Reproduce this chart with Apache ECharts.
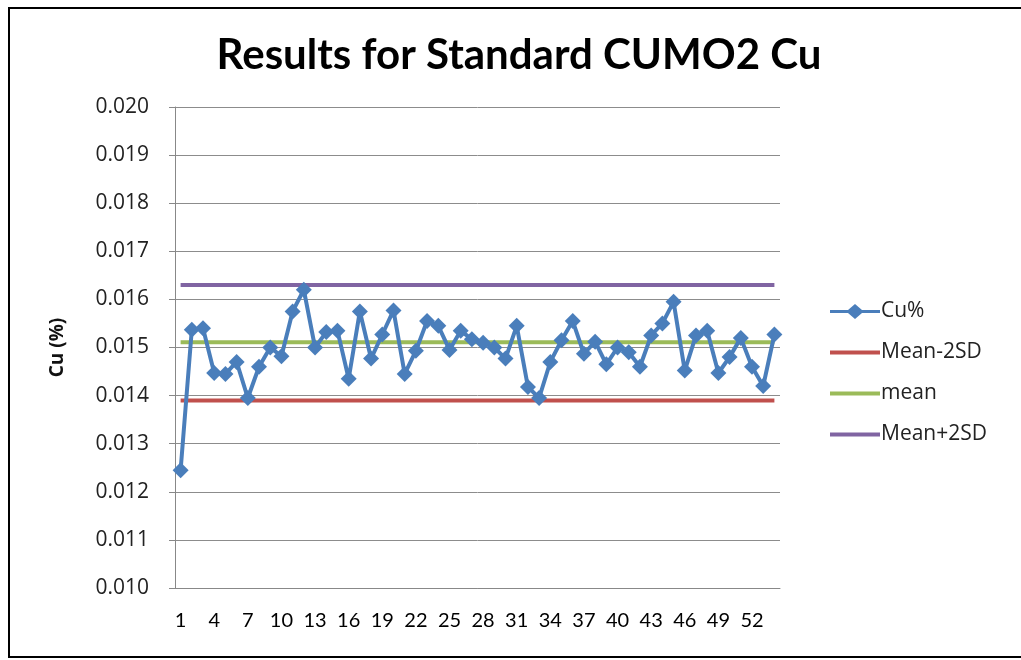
<!DOCTYPE html>
<html>
<head>
<meta charset="utf-8">
<title>Results for Standard CUMO2 Cu</title>
<style>
  html, body { margin: 0; padding: 0; background: #fff; }
  #chart { width: 1021px; height: 660px; }
</style>
</head>
<body>
<div id="chart"></div>
<script src="https://cdn.jsdelivr.net/npm/echarts@6/dist/echarts.min.js"></script>
<script>
// sample numbers 1..54
var categories = [];
for (var i = 1; i <= 54; i++) categories.push(String(i));

// Cu% results
var cuValues = [
  0.01245, 0.01537, 0.01540, 0.01447, 0.01445, 0.01470, 0.01395, 0.01460, 0.01500, 0.01482,
  0.01575, 0.01620, 0.01500, 0.01532, 0.01535, 0.01435, 0.01575, 0.01477, 0.01527, 0.01577,
  0.01445, 0.01493, 0.01555, 0.01545, 0.01495, 0.01535, 0.01517, 0.01510, 0.01500, 0.01477,
  0.01545, 0.01418, 0.01395, 0.01470, 0.01515, 0.01555, 0.01487, 0.01512, 0.01465, 0.01500,
  0.01490, 0.01460, 0.01525, 0.01550, 0.01595, 0.01452, 0.01525, 0.01535, 0.01447, 0.01480,
  0.01520, 0.01460, 0.01420, 0.01527
];

// control limits
var meanValue = 0.01511;
var lowerValue = 0.01390;
var upperValue = 0.01630;

var meanLine = categories.map(function () { return meanValue; });
var lowerLine = categories.map(function () { return lowerValue; });
var upperLine = categories.map(function () { return upperValue; });

var font = '"Open Sans", sans-serif';
var lineIcon = 'path://M0,0 L50,0 L50,4 L0,4 Z';
var markerIcon = 'path://M0,6 L18,6 L25,0 L32,6 L50,6 L50,9 L32,9 L25,15 L18,9 L0,9 Z';

var chart = echarts.init(document.getElementById('chart'), null, { renderer: 'canvas' });
chart.setOption({
  animation: false,
  backgroundColor: '#fff',
  title: {
    text: 'Results for Standard CUMO2 Cu',
    left: 514,
    top: 29,
    textAlign: 'center',
    textStyle: { fontFamily: 'Lato, sans-serif', fontSize: 42, fontWeight: 'bold', color: '#000' }
  },
  legend: {
    orient: 'vertical',
    left: 825,
    top: 296,
    itemGap: 20,
    itemWidth: 50,
    itemHeight: 22,
    symbolKeepAspect: true,
    textStyle: { fontFamily: font, fontSize: 21, color: '#222', padding: [0, 0, 0, -4] },
    data: [
      { name: 'Cu%', icon: markerIcon },
      { name: 'Mean-2SD', icon: lineIcon },
      { name: 'mean', icon: lineIcon },
      { name: 'Mean+2SD', icon: lineIcon }
    ]
  },
  grid: { left: 175, right: 241, top: 107, bottom: 72 },
  xAxis: {
    type: 'category',
    data: categories,
    boundaryGap: true,
    axisLine: { lineStyle: { color: '#888', width: 1 } },
    axisTick: { interval: 0, length: 6, lineStyle: { color: '#888' } },
    axisLabel: { interval: 2, fontFamily: 'Lato, sans-serif', fontSize: 20, color: '#000', margin: 23 },
    splitLine: { show: false }
  },
  yAxis: {
    type: 'value',
    min: 0.010,
    max: 0.020,
    interval: 0.001,
    name: 'Cu (%)',
    nameLocation: 'middle',
    nameGap: 108,
    nameTextStyle: { fontFamily: font, fontSize: 19, fontWeight: 'bold', color: '#111' },
    axisLine: { show: true, lineStyle: { color: '#888', width: 1 } },
    axisTick: { show: true, inside: false, length: 6, lineStyle: { color: '#888' } },
    axisLabel: {
      fontFamily: font, fontSize: 21, color: '#222', margin: 26,
      formatter: function (v) { return v.toFixed(3); }
    },
    splitLine: { lineStyle: { color: '#8c8c8c', width: 1 } }
  },
  series: [
    {
      name: 'Cu%',
      type: 'line',
      data: cuValues,
      color: '#4A7EBB',
      symbol: 'diamond',
      symbolSize: 16,
      showSymbol: true,
      showAllSymbol: true,
      lineStyle: { width: 4, color: '#4A7EBB' },
      itemStyle: { color: '#4A7EBB' },
      z: 5
    },
    {
      name: 'Mean-2SD',
      type: 'line',
      data: lowerLine,
      color: '#C0504D',
      symbol: 'none',
      lineStyle: { width: 4, color: '#C0504D' },
      z: 3
    },
    {
      name: 'mean',
      type: 'line',
      data: meanLine,
      color: '#9BBB59',
      symbol: 'none',
      lineStyle: { width: 4, color: '#9BBB59' },
      z: 3
    },
    {
      name: 'Mean+2SD',
      type: 'line',
      data: upperLine,
      color: '#8064A2',
      symbol: 'none',
      lineStyle: { width: 4, color: '#8064A2' },
      z: 3
    }
  ],
  graphic: [
    {
      type: 'rect',
      shape: { x: 9, y: 8, width: 1030, height: 649 },
      style: { fill: 'none', stroke: '#000', lineWidth: 2 },
      silent: true
    }
  ]
});
</script>
</body>
</html>
